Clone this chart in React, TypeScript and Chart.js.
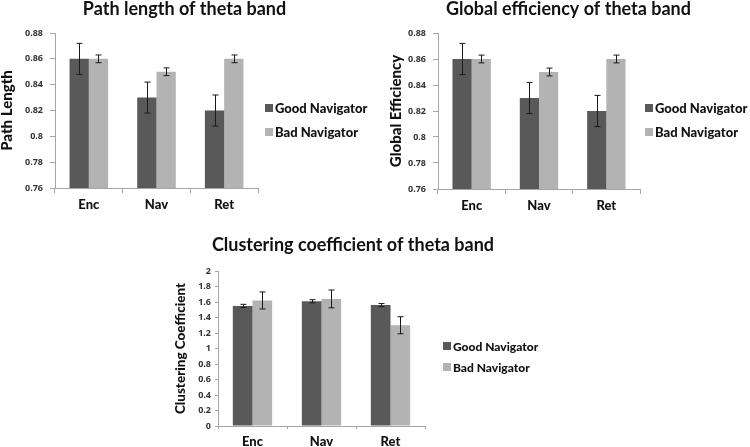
import React, { useEffect, useRef } from "react";
import { Chart, registerables } from "chart.js";

Chart.register(...registerables);

// ---- data ----
const categories = ["Enc", "Nav", "Ret"];
const seriesNames = ["Good Navigator", "Bad Navigator"];
const seriesColors = ["#595959", "#b3b3b3"];

const pathTitle = "Path length of theta band";
const pathAxis = "Path Length";
const pathGood = [0.86, 0.83, 0.82];
const pathGoodErr = [0.012, 0.012, 0.012];
const pathBad = [0.86, 0.85, 0.86];
const pathBadErr = [0.003, 0.003, 0.003];

const effTitle = "Global efficiency of theta band";
const effAxis = "Global Efficiency";
const effGood = [0.86, 0.83, 0.82];
const effGoodErr = [0.012, 0.012, 0.012];
const effBad = [0.86, 0.85, 0.86];
const effBadErr = [0.003, 0.003, 0.003];

const clusTitle = "Clustering coefficient of theta band";
const clusAxis = "Clustering Coefficient";
const clusGood = [1.55, 1.61, 1.56];
const clusGoodErr = [0.02, 0.02, 0.02];
const clusBad = [1.62, 1.64, 1.3];
const clusBadErr = [0.11, 0.115, 0.11];

const topRange = { min: 0.76, max: 0.88, step: 0.02 };
const clusRange = { min: 0, max: 2, step: 0.2 };

// ---- error bar plugin ----
const errorBarPlugin = {
  id: "errorBars",
  afterDatasetsDraw(chart: any, _args: any, opts: any) {
    const errs = opts && opts.errors;
    if (!errs) return;
    const ctx = chart.ctx;
    const yScale = chart.scales.y;
    chart.data.datasets.forEach((ds: any, di: number) => {
      const meta = chart.getDatasetMeta(di);
      const e = errs[di];
      meta.data.forEach((bar: any, i: number) => {
        const v = ds.data[i];
        const yT = yScale.getPixelForValue(v + e[i]);
        const yB = yScale.getPixelForValue(v - e[i]);
        const x = Math.round(bar.x) + 0.5;
        ctx.save();
        ctx.strokeStyle = "#1a1a1a";
        ctx.lineWidth = 1;
        ctx.beginPath();
        ctx.moveTo(x, yT);
        ctx.lineTo(x, yB);
        ctx.moveTo(x - 3, yT);
        ctx.lineTo(x + 3, yT);
        ctx.moveTo(x - 3, yB);
        ctx.lineTo(x + 3, yB);
        ctx.stroke();
        ctx.restore();
      });
    });
  },
};

type PanelProps = {
  left: number;
  top: number;
  width: number;
  height: number;
  padLeft: number;
  yWidth: number;
  rightWidth: number;
  xHeight: number;
  titlePad: { top: number; bottom: number };
  title: string;
  axisTitle: string;
  axisTitleSize: number;
  good: number[];
  bad: number[];
  goodErr: number[];
  badErr: number[];
  range: { min: number; max: number; step: number };
  yTickLen: number;
  yTickPad: number;
  xTickLen: number;
  xTickPad: number;
  legendLeft: number;
  legendY: number[];
  legendSize: number;
};

const gray = "#a6a6a6";

function Panel(p: PanelProps) {
  const ref = useRef<HTMLCanvasElement | null>(null);
  useEffect(() => {
    if (!ref.current) return;
    const chart = new Chart(ref.current, {
      type: "bar",
      data: {
        labels: categories,
        datasets: [
          { label: seriesNames[0], data: p.good, backgroundColor: seriesColors[0], borderWidth: 0 },
          { label: seriesNames[1], data: p.bad, backgroundColor: seriesColors[1], borderWidth: 0 },
        ],
      },
      plugins: [errorBarPlugin],
      options: {
        responsive: false,
        animation: false,
        devicePixelRatio: 1,
        layout: { padding: { left: p.padLeft, right: 0, top: 0, bottom: 0 } },
        datasets: { bar: { categoryPercentage: 0.57, barPercentage: 1.0 } },
        plugins: {
          legend: { display: false },
          tooltip: { enabled: false },
          title: {
            display: true,
            text: p.title,
            color: "#111",
            font: { family: "Lato", weight: "bold", size: 18, lineHeight: 1.0 },
            padding: p.titlePad,
          },
          errorBars: { errors: [p.goodErr, p.badErr] },
        } as any,
        scales: {
          x: {
            grid: {
              display: true,
              drawOnChartArea: false,
              drawTicks: true,
              tickLength: p.xTickLen,
              color: gray,
              offset: true,
            },
            border: { display: true, color: gray },
            ticks: {
              color: "#111",
              padding: p.xTickPad,
              font: { family: "Lato", weight: "900", size: 13 },
            },
            afterFit: (s: any) => {
              s.height = p.xHeight;
            },
          },
          y: {
            min: p.range.min,
            max: p.range.max,
            grid: {
              display: true,
              drawOnChartArea: false,
              drawTicks: true,
              tickLength: p.yTickLen,
              color: gray,
            },
            border: { display: true, color: gray },
            ticks: {
              stepSize: p.range.step,
              color: "#333",
              padding: p.yTickPad,
              font: { family: "Open Sans", weight: "bold", size: 9 },
              callback: (v: any) => String(Number(Number(v).toFixed(2))),
            },
            title: {
              display: true,
              text: p.axisTitle,
              color: "#111",
              padding: { top: 0, bottom: 0 },
              font: { family: "Lato", weight: "900", size: p.axisTitleSize, lineHeight: 1.0 },
            },
            afterFit: (s: any) => {
              s.width = p.yWidth;
            },
          },
          yr: {
            type: "linear",
            position: "right",
            display: true,
            grid: { display: false },
            border: { display: false },
            ticks: { display: false },
            afterFit: (s: any) => {
              s.width = p.rightWidth;
            },
          },
        } as any,
      },
    });
    return () => chart.destroy();
  }, []);

  return (
    <>
      <canvas
        ref={ref}
        width={p.width}
        height={p.height}
        style={{ position: "absolute", left: p.left, top: p.top, width: p.width, height: p.height }}
      />
      {seriesNames.map((name, i) => (
        <div
          key={name}
          style={{
            position: "absolute",
            left: p.legendLeft,
            top: p.legendY[i] - 8,
            height: 16,
            display: "flex",
            alignItems: "center",
            fontFamily: "Lato",
            fontWeight: 900,
            fontSize: p.legendSize,
            color: "#111",
            whiteSpace: "nowrap",
          }}
        >
          <span style={{ display: "inline-block", width: 8, height: 8, background: seriesColors[i], marginRight: 2 }} />
          <span>{name}</span>
        </div>
      ))}
    </>
  );
}

export default function App() {
  return (
    <div style={{ position: "absolute", left: 0, top: 0, width: 750, height: 447, background: "#fff", overflow: "hidden" }}>
      <Panel
        left={0}
        top={0}
        width={369}
        height={225}
        padLeft={0}
        yWidth={55}
        rightWidth={111}
        xHeight={37}
        titlePad={{ top: 0, bottom: 15 }}
        title={pathTitle}
        axisTitle={pathAxis}
        axisTitleSize={15}
        good={pathGood}
        bad={pathBad}
        goodErr={pathGoodErr}
        badErr={pathBadErr}
        range={topRange}
        yTickLen={5}
        yTickPad={7}
        xTickLen={5}
        xTickPad={4}
        legendLeft={265}
        legendY={[108, 132]}
        legendSize={13}
      />
      <Panel
        left={375}
        top={0}
        width={373}
        height={225}
        padLeft={14}
        yWidth={49}
        rightWidth={108}
        xHeight={36}
        titlePad={{ top: 0, bottom: 15 }}
        title={effTitle}
        axisTitle={effAxis}
        axisTitleSize={15}
        good={effGood}
        bad={effBad}
        goodErr={effGoodErr}
        badErr={effBadErr}
        range={topRange}
        yTickLen={5}
        yTickPad={7}
        xTickLen={5}
        xTickPad={4}
        legendLeft={645}
        legendY={[108, 132]}
        legendSize={13}
      />
      <Panel
        left={150}
        top={225}
        width={382}
        height={222}
        padLeft={24}
        yWidth={44}
        rightWidth={107}
        xHeight={21}
        titlePad={{ top: 11, bottom: 17 }}
        title={clusTitle}
        axisTitle={clusAxis}
        axisTitleSize={13.5}
        good={clusGood}
        bad={clusBad}
        goodErr={clusGoodErr}
        badErr={clusBadErr}
        range={clusRange}
        yTickLen={3}
        yTickPad={4}
        xTickLen={3}
        xTickPad={5}
        legendLeft={443}
        legendY={[346, 367]}
        legendSize={12}
      />
    </div>
  );
}
